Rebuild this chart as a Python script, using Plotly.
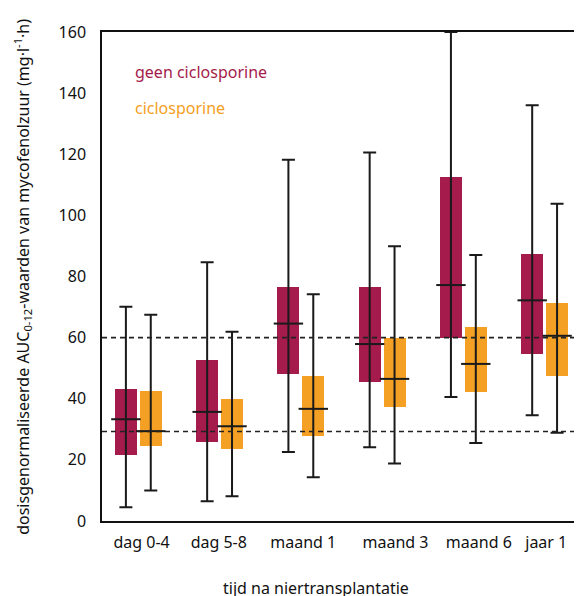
import numpy as np
import plotly.graph_objects as go

categories = ["dag 0-4", "dag 5-8", "maand 1", "maand 3", "maand 6", "jaar 1"]

# geen ciclosporine
geen_min = [4.5, 6.5, 22.6, 24.1, 40.6, 34.6]
geen_q1 = [21.7, 25.8, 48.1, 45.5, 60.0, 54.7]
geen_med = [33.3, 35.7, 64.6, 57.9, 77.2, 72.2]
geen_q3 = [43.1, 52.6, 76.5, 76.5, 112.6, 87.3]
geen_max = [70.1, 84.7, 118.2, 120.6, 160.0, 136.0]

# ciclosporine
cic_min = [10.0, 8.1, 14.3, 18.8, 25.5, 28.9]
cic_q1 = [24.5, 23.5, 27.8, 37.3, 42.2, 47.5]
cic_med = [29.4, 31.0, 36.7, 46.5, 51.4, 60.6]
cic_q3 = [42.4, 39.8, 47.4, 59.8, 63.4, 71.3]
cic_max = [67.5, 61.9, 74.2, 89.9, 87.0, 103.8]

reference_lines = [29.3, 60.0]

MAROON = "#A51B4B"
ORANGE = "#F4A024"
WHISK = "#1a1a1a"
FONT = "Noto Sans"

pos = np.arange(len(categories))
off = 0.153
bw = 0.27

fig = go.Figure()

series = [
    ("geen ciclosporine", pos - off, geen_min, geen_q1, geen_med, geen_q3, geen_max, MAROON),
    ("ciclosporine", pos + off, cic_min, cic_q1, cic_med, cic_q3, cic_max, ORANGE),
]

for name, xs, mn, q1, md, q3, mx, col in series:
    q1a, q3a = np.array(q1), np.array(q3)
    fig.add_trace(go.Bar(x=xs, y=q3a - q1a, base=q1a, width=bw, marker=dict(color=col, line=dict(width=0)),
                         name=name, showlegend=False))

for name, xs, mn, q1, md, q3, mx, col in series:
    mda, mna, mxa = np.array(md), np.array(mn), np.array(mx)
    fig.add_trace(go.Scatter(x=xs, y=mda, mode="markers",
                             marker=dict(symbol="line-ew", size=21, line=dict(width=2, color=WHISK), color=WHISK),
                             error_y=dict(type="data", symmetric=False, array=mxa - mda, arrayminus=mda - mna,
                                          width=6.5, thickness=2, color=WHISK),
                             showlegend=False, cliponaxis=False))

for v in reference_lines:
    fig.add_shape(type="line", xref="paper", x0=0, x1=1, yref="y", y0=v, y1=v,
                  line=dict(color="#222", width=1.6, dash="5px,4px"), layer="above")

tick_shift = [0.04, -0.01, 0.03, 0.165, 0.19, 0.02]

fig.update_layout(
    width=574, height=588,
    margin=dict(l=94, r=1, t=24, b=75),
    plot_bgcolor="white", paper_bgcolor="white",
    barmode="overlay", bargap=0,
    font=dict(family=FONT, size=16, color="#111"),
    xaxis=dict(range=[-0.447, 5.423], tickmode="array", tickvals=pos + np.array(tick_shift),
               ticktext=categories, showgrid=False, zeroline=False, showline=True, mirror=True,
               linecolor="#111", linewidth=1.5, ticks="", ticklabelstandoff=6,
               tickfont=dict(family=FONT, size=16, color="#111")),
    yaxis=dict(range=[0, 160], tickvals=list(range(0, 161, 20)), showgrid=False, zeroline=False,
               showline=True, mirror=True, linecolor="#111", linewidth=1.5, ticks="",
               ticklabelstandoff=11, tickfont=dict(family=FONT, size=16, color="#111")),
    annotations=[
        dict(text="geen ciclosporine", xref="paper", yref="paper", x=0.0647, y=0.918, xanchor="left",
             yanchor="middle", showarrow=False, font=dict(family=FONT, size=16, color=MAROON)),
        dict(text="ciclosporine", xref="paper", yref="paper", x=0.0647, y=0.845, xanchor="left",
             yanchor="middle", showarrow=False, font=dict(family=FONT, size=16, color=ORANGE)),
        dict(text="tijd na niertransplantatie", xref="paper", yref="paper", x=0.449, y=-0.137,
             xanchor="center", yanchor="middle", showarrow=False, font=dict(family=FONT, size=16, color="#111")),
        dict(text="dosisgenormaliseerde AUC<sub>0-12</sub>-waarden van mycofenolzuur (mg·l<sup>-1</sup>·h)",
             xref="paper", yref="paper", x=-0.167, y=0.5, xanchor="center", yanchor="middle",
             textangle=-90, showarrow=False, font=dict(family=FONT, size=16, color="#111")),
    ],
)

fig.write_html("out.html")
